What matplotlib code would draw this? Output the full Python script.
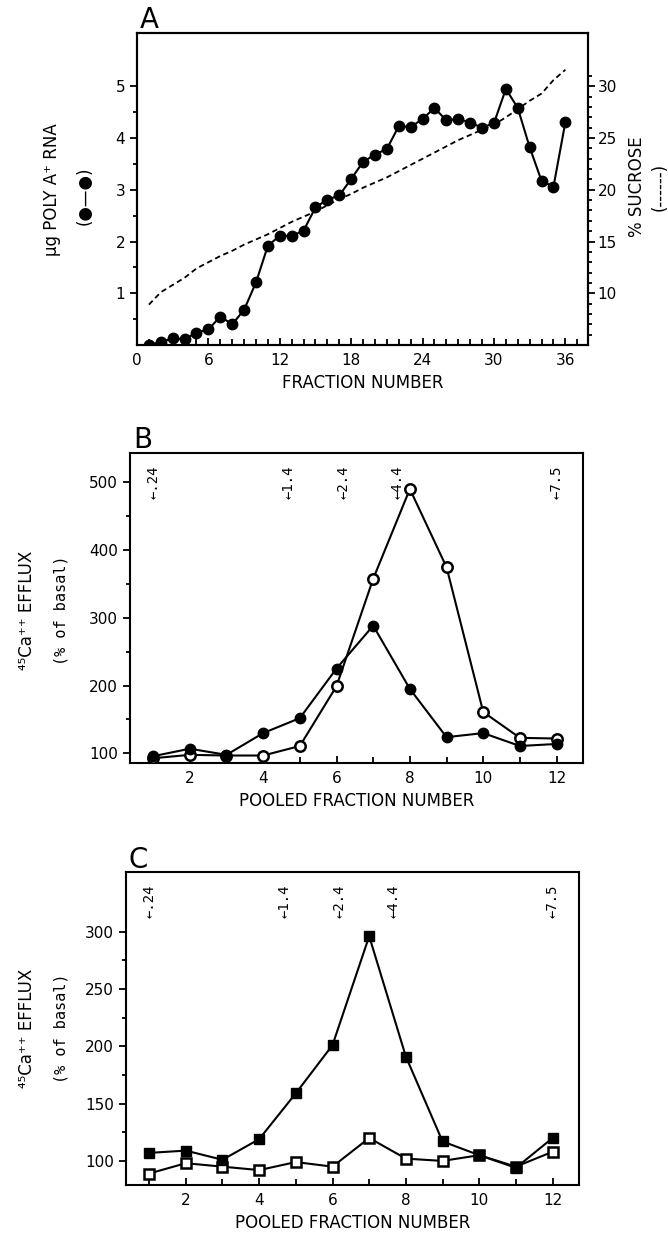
import numpy as np
import matplotlib.pyplot as plt
from matplotlib import font_manager
from matplotlib.ticker import MultipleLocator, FixedLocator

# narrow sans if the system has one, otherwise DejaVu
names = set(f.name for f in font_manager.fontManager.ttflist)
if 'Liberation Sans Narrow' in names:
    main_font = 'Liberation Sans Narrow'
    fs = 13
else:
    main_font = 'DejaVu Sans'
    fs = 11
plt.rcParams['font.family'] = [main_font, 'DejaVu Sans']

# ---- data ----
fraction = np.arange(1, 37)
poly_a_rna = [0.0, 0.06, 0.13, 0.11, 0.24, 0.30, 0.55, 0.40, 0.68, 1.21,
              1.92, 2.11, 2.11, 2.21, 2.66, 2.81, 2.89, 3.21, 3.54, 3.68,
              3.79, 4.23, 4.21, 4.37, 4.58, 4.34, 4.37, 4.30, 4.20, 4.29,
              4.95, 4.58, 3.82, 3.17, 3.06, 4.31]
sucrose = [8.9, 10.1, 10.8, 11.5, 12.4, 13.0, 13.6, 14.1, 14.7, 15.2,
           15.7, 16.3, 16.9, 17.4, 17.9, 18.5, 19.1, 19.6, 20.2, 20.7,
           21.2, 21.8, 22.4, 23.0, 23.6, 24.2, 24.8, 25.3, 25.8, 26.3,
           27.0, 27.8, 28.6, 29.3, 30.6, 31.6]

pooled = np.arange(1, 13)
b_filled = [96, 107, 98, 130, 152, 225, 288, 195, 124, 130, 111, 114]
b_open = [93, 98, 97, 97, 111, 199, 357, 489, 374, 161, 123, 122]
c_filled = [107, 109, 101, 119, 159, 201, 296, 191, 117, 105, 94, 120]
c_open = [89, 98, 95, 92, 99, 95, 120, 102, 100, 105, 95, 108]

size_markers = [1.0, 4.7, 6.2, 7.66, 12.0]
size_labels = ['.24', '1.4', '2.4', '4.4', '7.5']

W, H = 668, 1238
fig = plt.figure(figsize=(W / 100, H / 100), dpi=100)


def box(l, t, r, b):
    return [l / W, 1 - b / H, (r - l) / W, (b - t) / H]


def ftext(px, py, s, **kw):
    fig.text(px / W, 1 - py / H, s, **kw)


def style(ax):
    for sp in ax.spines.values():
        sp.set_linewidth(1.5)
    ax.tick_params(axis='x', which='both', direction='in', width=1.3, labelsize=fs, pad=6)
    ax.tick_params(axis='x', which='major', length=5)
    ax.tick_params(axis='x', which='minor', length=4)
    ax.tick_params(axis='y', which='both', direction='out', width=1.3, labelsize=fs)
    ax.tick_params(axis='y', which='major', length=5)
    ax.tick_params(axis='y', which='minor', length=3)


# ---- panel A ----
axA = fig.add_axes(box(137, 33, 588, 345))
axA.plot(fraction, poly_a_rna, '-o', color='black', lw=1.5, ms=7.5)
axA.set_xlim(0, 37.9)
axA.set_ylim(0, 6.03)
axA.set_xticks(np.arange(0, 37, 6))
axA.xaxis.set_minor_locator(MultipleLocator(1))
axA.set_yticks([1, 2, 3, 4, 5])
axA.yaxis.set_minor_locator(FixedLocator(np.arange(0.5, 5, 1)))
style(axA)
axA.set_xlabel('FRACTION NUMBER', fontsize=fs + 1, labelpad=4)

axA2 = axA.twinx()
axA2.plot(fraction, sucrose, color='black', lw=1.3, ls=(0, (3, 2)))
axA2.set_ylim(5, 35.15)
axA2.set_yticks([10, 15, 20, 25, 30])
axA2.yaxis.set_minor_locator(FixedLocator(np.arange(6, 32, 1)))
axA2.tick_params(axis='y', which='both', direction='out', width=1.3, labelsize=fs, pad=2)
axA2.tick_params(axis='y', which='major', length=5)
axA2.tick_params(axis='y', which='minor', length=3)
for sp in axA2.spines.values():
    sp.set_linewidth(1.5)

ftext(140, 28, 'A', fontsize=20, ha='left', va='baseline')
ftext(52, 190, 'µg POLY A⁺ RNA', rotation=90, ha='center', va='center', fontsize=fs + 1)
ftext(85, 196, '(●—●)', rotation=90, ha='center', va='center', fontsize=fs + 1,
      family='DejaVu Sans')
ftext(637, 187, '% SUCROSE', rotation=90, ha='center', va='center', fontsize=fs + 1)
ftext(660, 187, '(------)', rotation=90, ha='center', va='center', fontsize=fs + 1)


# ---- panels B and C ----
def efflux_panel(rect, filled, opened, marker, ylim, majors, minors, letter, lx, ly, yc):
    ax = fig.add_axes(rect)
    ax.plot(pooled, opened, '-', marker=marker, color='black', lw=1.5, ms=7.5,
            mfc='white', mew=1.8, zorder=3)
    ax.plot(pooled, filled, '-', marker=marker, color='black', lw=1.5, ms=7.5,
            zorder=4)
    ax.set_xlim(0.37, 12.72)
    ax.set_ylim(*ylim)
    ax.set_xticks(np.arange(2, 13, 2))
    ax.xaxis.set_minor_locator(FixedLocator(np.arange(1, 12, 2)))
    ax.set_yticks(majors)
    ax.yaxis.set_minor_locator(FixedLocator(minors))
    style(ax)
    ax.set_xlabel('POOLED FRACTION NUMBER', fontsize=fs + 1, labelpad=4)
    for xm, lab in zip(size_markers, size_labels):
        ax.text(xm, 0.853, '←' + lab, transform=ax.get_xaxis_transform(),
                rotation=90, ha='center', va='bottom', fontsize=fs - 1,
                family=['DejaVu Sans Mono', 'DejaVu Sans'])
    ftext(lx, ly, letter, fontsize=20, ha='left', va='baseline')
    ftext(27, yc, '⁴⁵Ca⁺⁺ EFFLUX', rotation=90, ha='center', va='center', fontsize=fs + 1)
    ftext(61, yc, '(% of basal)', rotation=90, ha='center', va='center', fontsize=fs,
          family=['DejaVu Sans Mono', 'DejaVu Sans'])
    return ax


efflux_panel(box(130, 453, 583, 763), b_filled, b_open, 'o', (86, 542),
             [100, 200, 300, 400, 500], [150, 250, 350, 450], 'B', 133, 448, 610)
efflux_panel(box(126, 872, 579, 1185), c_filled, c_open, 's', (79, 352),
             [100, 150, 200, 250, 300], [125, 175, 225, 275], 'C', 128, 868, 1028)

fig.savefig('out.png', dpi=100)
